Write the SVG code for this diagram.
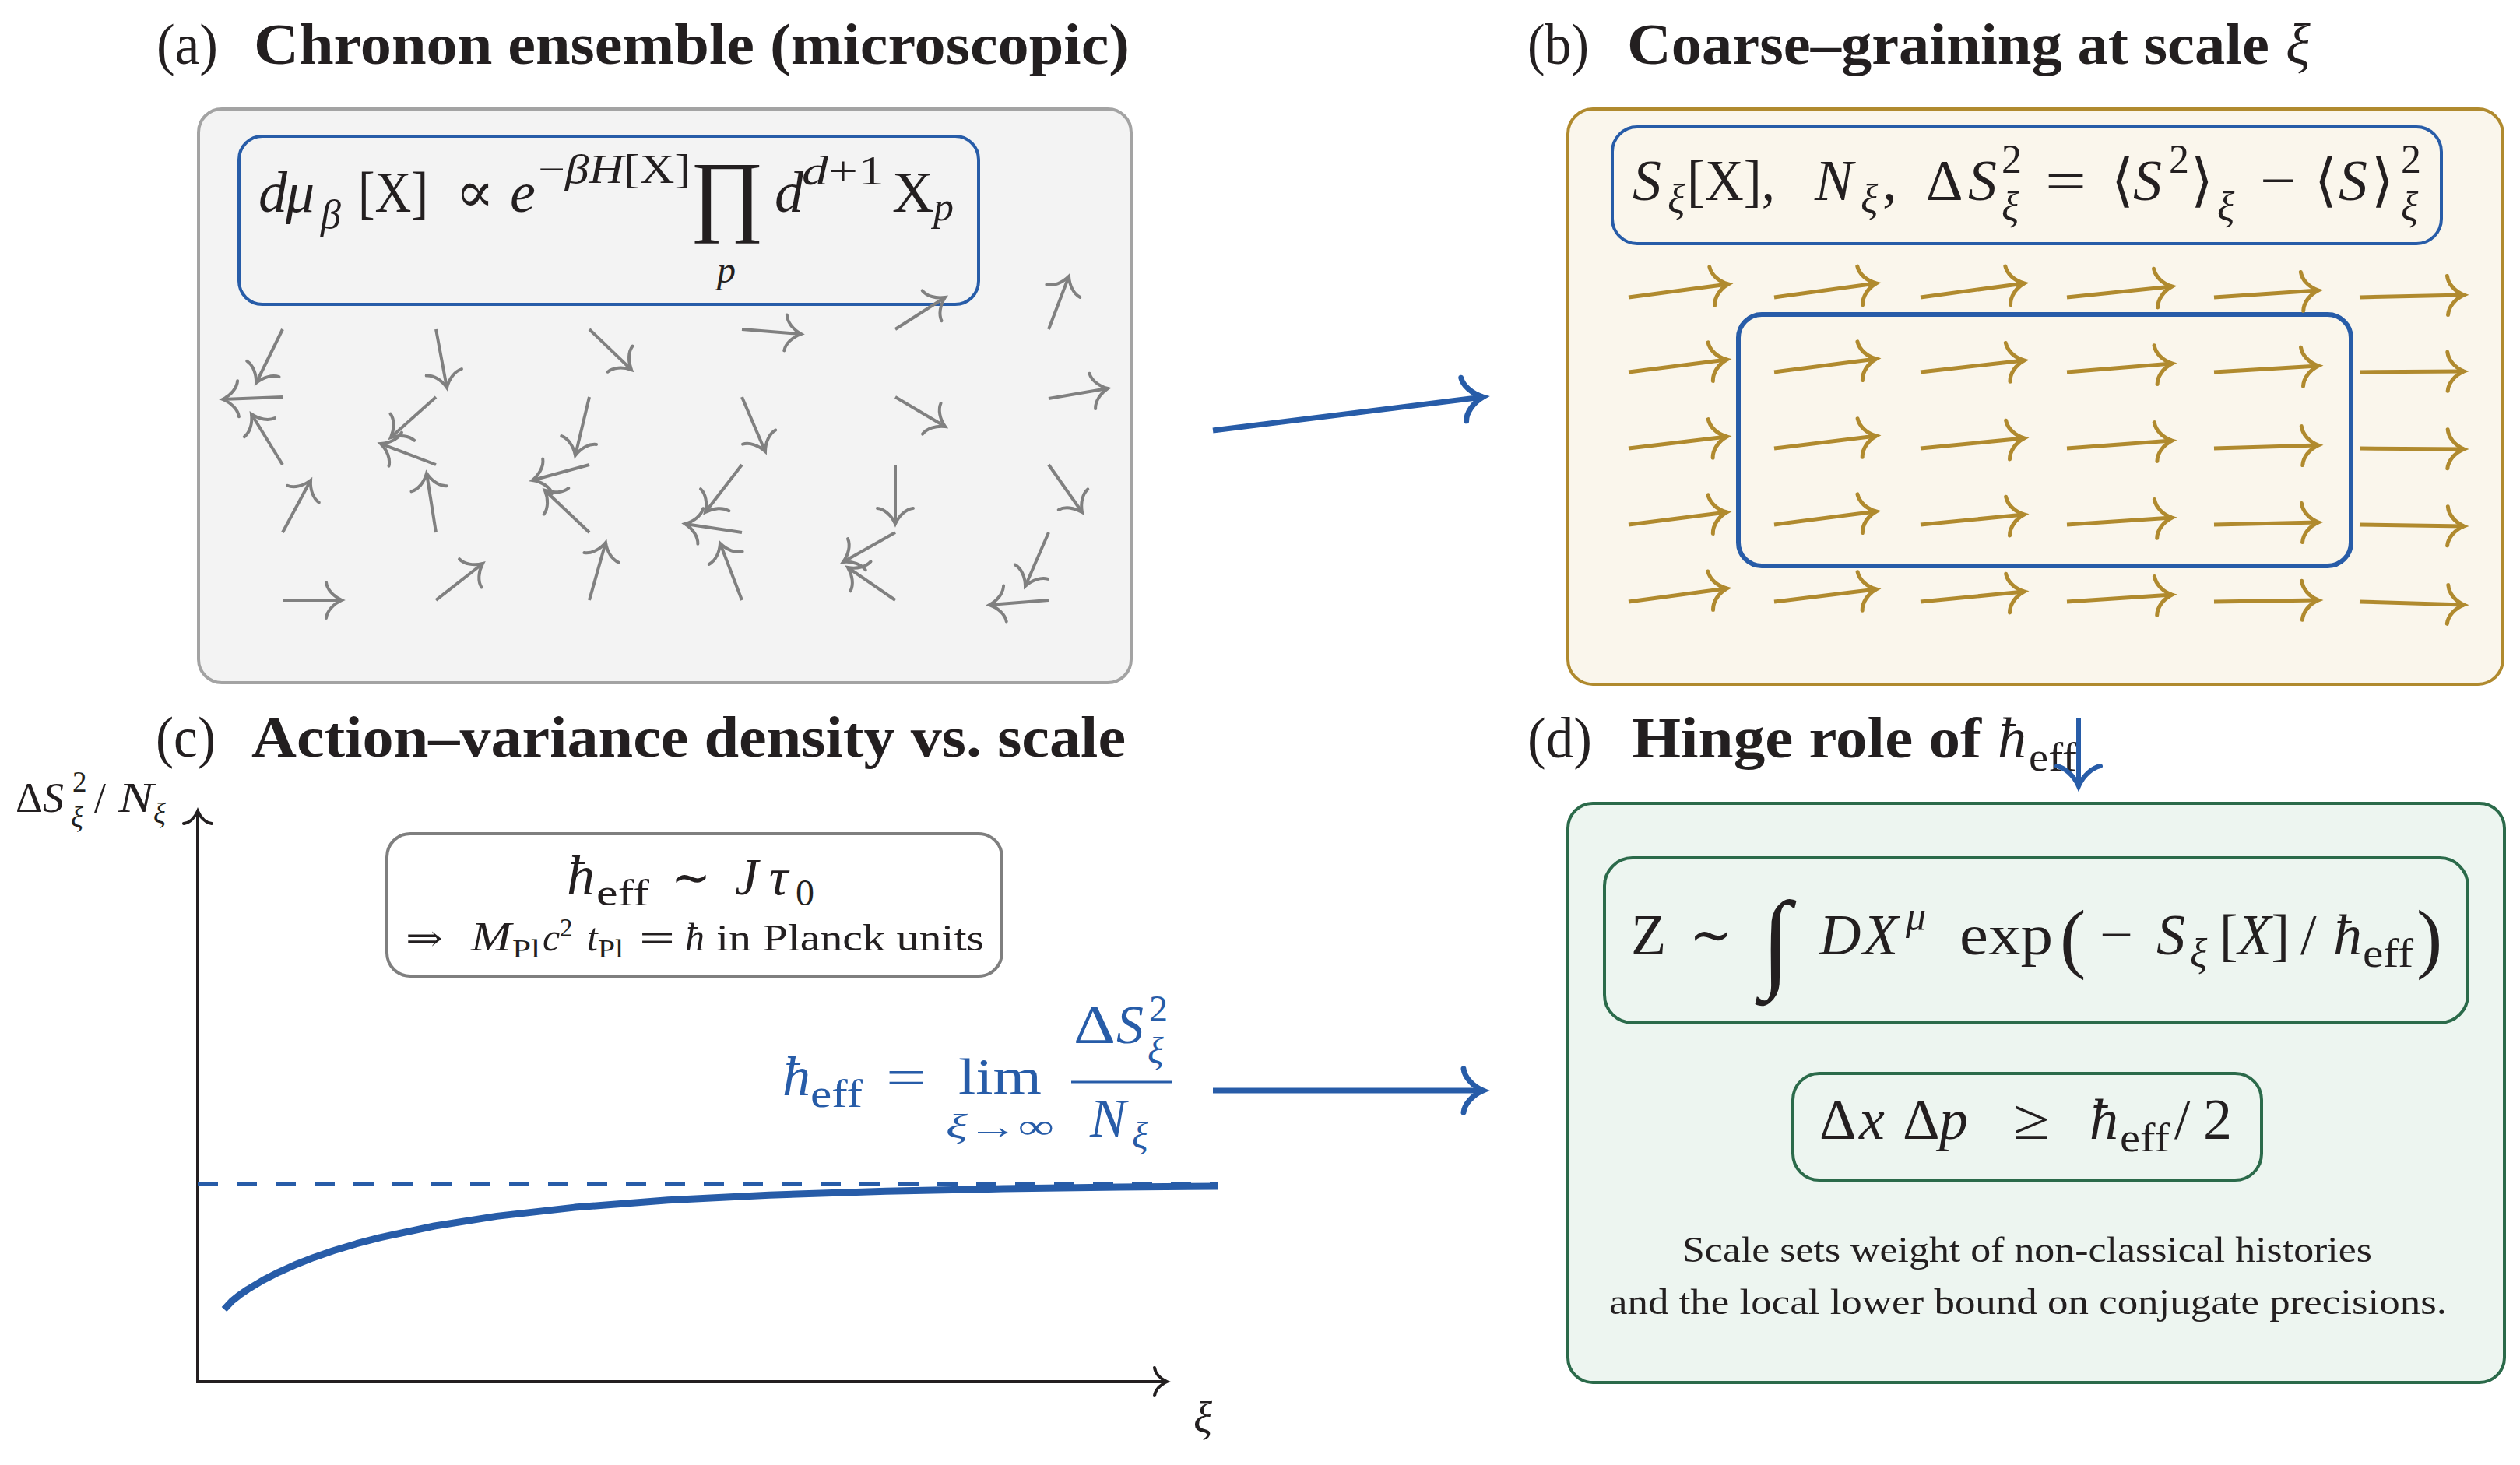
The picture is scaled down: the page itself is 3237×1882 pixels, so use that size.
<svg xmlns="http://www.w3.org/2000/svg" width="3237" height="1882" viewBox="0 0 3237 1882">
<style>
text{font-family:"Liberation Serif","DejaVu Serif","DejaVu Sans",serif;fill:#231f20}
.i{font-style:italic}
.b{font-weight:bold}
.tt{font-size:74px}
.m{font-size:74px}
.s{font-size:52px}
.blue{fill:#275ca8}
.ga{fill:none;stroke:#808080;stroke-width:4}
.au{fill:none;stroke:#b08a2e;stroke-width:5}
.cn{fill:none;stroke:#275ca8;stroke-width:7}
</style>
<defs>
<marker id="mg" markerUnits="userSpaceOnUse" orient="auto" markerWidth="60" markerHeight="60" viewBox="-30 -30 60 60" refX="0" refY="0" overflow="visible">
<path d="M-20,-23 C-19,-14 -11,-5 0,0 C-11,5 -19,14 -20,23" fill="none" stroke="#808080" stroke-width="4" stroke-linecap="round"/>
</marker>
<marker id="mau" markerUnits="userSpaceOnUse" orient="auto" markerWidth="60" markerHeight="60" viewBox="-30 -30 60 60" refX="0" refY="0" overflow="visible">
<path d="M-21,-25 C-20,-15 -12,-5 0,0 C-12,5 -20,15 -21,25" fill="none" stroke="#b08a2e" stroke-width="5" stroke-linecap="round"/>
</marker>
<marker id="mb" markerUnits="userSpaceOnUse" orient="auto" markerWidth="80" markerHeight="80" viewBox="-40 -40 80 80" refX="0" refY="0" overflow="visible">
<path d="M-25,-28 C-24,-18 -14,-6 0,0 C-14,6 -24,18 -25,28" fill="none" stroke="#275ca8" stroke-width="7" stroke-linecap="round"/>
</marker>
<marker id="mbs" markerUnits="userSpaceOnUse" orient="auto" markerWidth="80" markerHeight="80" viewBox="-40 -40 80 80" refX="0" refY="0" overflow="visible">
<path d="M-26,-28 C-24,-18 -14,-6 0,0 C-14,6 -24,18 -26,28" fill="none" stroke="#275ca8" stroke-width="6" stroke-linecap="round"/>
</marker>
<marker id="mk" markerUnits="userSpaceOnUse" orient="auto" markerWidth="60" markerHeight="60" viewBox="-30 -30 60 60" refX="0" refY="0" overflow="visible">
<path d="M-16,-18 C-15,-11 -9,-4 0,0 C-9,4 -15,11 -16,18" fill="none" stroke="#231f20" stroke-width="4" stroke-linecap="round"/>
</marker>
</defs>
<rect width="3237" height="1882" fill="#ffffff"/>

<!-- Panel (a) -->
<g id="panel-a">
<text x="201" y="82" class="tt" textLength="79" lengthAdjust="spacingAndGlyphs">(a)</text>
<text x="326" y="82" class="tt b" textLength="1125" lengthAdjust="spacingAndGlyphs">Chronon ensemble (microscopic)</text>
<rect x="255" y="140" width="1198" height="737" rx="30" fill="#f3f3f3" stroke="#a3a3a3" stroke-width="4"/>
</g>
<g id="node-a-formula">
<rect x="307" y="175" width="950" height="216" rx="30" fill="none" stroke="#275ca8" stroke-width="4"/>
<text x="332" y="272" class="m i">d</text>
<text x="367" y="272" class="m i">μ</text>
<text x="412" y="293" class="s i">β</text>
<text x="460" y="272" class="m" textLength="90" lengthAdjust="spacingAndGlyphs">[X]</text>
<text x="585" y="272" class="m">∝</text>
<text x="655" y="272" class="m i">e</text>
<text x="691" y="235" class="s" textLength="196" lengthAdjust="spacingAndGlyphs">−<tspan class="i">βH</tspan>[X]</text>
<text x="886" y="288" style="font-size:116px">∏</text>
<text x="921" y="363" class="i" style="font-size:48px">p</text>
<text x="995" y="272" class="m i">d</text>
<text x="1030" y="237" class="s" textLength="106" lengthAdjust="spacingAndGlyphs"><tspan class="i">d</tspan>+1</text>
<text x="1146" y="272" class="m">X</text>
<text x="1199" y="283" class="s i">p</text>
</g>
<g id="microscopic-arrows">
<path class="ga" marker-end="url(#mg)" d="M363,423L329,492"/>
<path class="ga" marker-end="url(#mg)" d="M560,423L574,498"/>
<path class="ga" marker-end="url(#mg)" d="M757,423L811,475"/>
<path class="ga" marker-end="url(#mg)" d="M953,423L1029,429"/>
<path class="ga" marker-end="url(#mg)" d="M1150,423L1214,382"/>
<path class="ga" marker-end="url(#mg)" d="M1347,423L1373,355"/>
<path class="ga" marker-end="url(#mg)" d="M363,510L286,513"/>
<path class="ga" marker-end="url(#mg)" d="M560,510L502,562"/>
<path class="ga" marker-end="url(#mg)" d="M757,510L739,585"/>
<path class="ga" marker-end="url(#mg)" d="M953,510L983,580"/>
<path class="ga" marker-end="url(#mg)" d="M1150,510L1214,548"/>
<path class="ga" marker-end="url(#mg)" d="M1347,512L1423,499"/>
<path class="ga" marker-end="url(#mg)" d="M363,597L323,532"/>
<path class="ga" marker-end="url(#mg)" d="M560,597L489,570"/>
<path class="ga" marker-end="url(#mg)" d="M757,597L684,617"/>
<path class="ga" marker-end="url(#mg)" d="M953,597L906,658"/>
<path class="ga" marker-end="url(#mg)" d="M1150,597L1150,673"/>
<path class="ga" marker-end="url(#mg)" d="M1347,597L1390,658"/>
<path class="ga" marker-end="url(#mg)" d="M363,684L399,617"/>
<path class="ga" marker-end="url(#mg)" d="M560,684L548,608"/>
<path class="ga" marker-end="url(#mg)" d="M757,684L700,630"/>
<path class="ga" marker-end="url(#mg)" d="M953,684L880,673"/>
<path class="ga" marker-end="url(#mg)" d="M1150,684L1083,722"/>
<path class="ga" marker-end="url(#mg)" d="M1347,684L1317,753"/>
<path class="ga" marker-end="url(#mg)" d="M363,771L439,771"/>
<path class="ga" marker-end="url(#mg)" d="M560,771L620,724"/>
<path class="ga" marker-end="url(#mg)" d="M757,771L778,697"/>
<path class="ga" marker-end="url(#mg)" d="M953,771L925,698"/>
<path class="ga" marker-end="url(#mg)" d="M1150,771L1089,729"/>
<path class="ga" marker-end="url(#mg)" d="M1347,771L1271,777"/>
</g>

<!-- Panel (b) -->
<g id="panel-b">
<text x="1962" y="82" class="tt" textLength="79" lengthAdjust="spacingAndGlyphs">(b)</text>
<text x="2090" y="82" class="tt b" textLength="825" lengthAdjust="spacingAndGlyphs">Coarse–graining at scale</text>
<text x="2936" y="82" class="tt i">ξ</text>
<rect x="2014" y="140" width="1201" height="739" rx="32" fill="#faf6ec" stroke="#b08a2e" stroke-width="4"/>
</g>
<g id="node-b-formula">
<rect x="2071" y="163" width="1065" height="150" rx="32" fill="none" stroke="#275ca8" stroke-width="4"/>
<text x="2097" y="257" class="m i">S</text>
<text x="2142" y="273" class="s i">ξ</text>
<text x="2167" y="257" class="m" textLength="113" lengthAdjust="spacingAndGlyphs">[X],</text>
<text x="2331" y="257" class="m i">N</text>
<text x="2390" y="273" class="s i">ξ</text>
<text x="2418" y="257" class="m">,</text>
<text x="2474" y="257" class="m">Δ</text>
<text x="2528" y="257" class="m i">S</text>
<text x="2571" y="222" class="s">2</text>
<text x="2571" y="283" class="s i">ξ</text>
<text x="2627" y="257" class="m" textLength="53" lengthAdjust="spacingAndGlyphs">=</text>
<text x="2712" y="257" class="m">⟨</text>
<text x="2740" y="257" class="m i">S</text>
<text x="2786" y="222" class="s">2</text>
<text x="2814" y="257" class="m">⟩</text>
<text x="2848" y="283" class="s i">ξ</text>
<text x="2903" y="257" class="m" textLength="47" lengthAdjust="spacingAndGlyphs">−</text>
<text x="2973" y="257" class="m">⟨</text>
<text x="3004" y="257" class="m i">S</text>
<text x="3046" y="257" class="m">⟩</text>
<text x="3084" y="222" class="s">2</text>
<text x="3084" y="283" class="s i">ξ</text>
</g>
<g id="node-b-block">
<rect x="2233" y="404" width="787" height="323" rx="30" fill="none" stroke="#275ca8" stroke-width="6"/>
</g>
<g id="coarse-arrows">
<path class="au" marker-end="url(#mau)" d="M2092,382l128,-17"/>
<path class="au" marker-end="url(#mau)" d="M2279,382l131,-18"/>
<path class="au" marker-end="url(#mau)" d="M2467,382l133,-18"/>
<path class="au" marker-end="url(#mau)" d="M2655,382l135,-14"/>
<path class="au" marker-end="url(#mau)" d="M2844,382l134,-9"/>
<path class="au" marker-end="url(#mau)" d="M3031,382l134,-3"/>
<path class="au" marker-end="url(#mau)" d="M2092,478l126,-16"/>
<path class="au" marker-end="url(#mau)" d="M2279,478l131,-17"/>
<path class="au" marker-end="url(#mau)" d="M2467,478l133,-15"/>
<path class="au" marker-end="url(#mau)" d="M2655,478l135,-11"/>
<path class="au" marker-end="url(#mau)" d="M2844,478l134,-8"/>
<path class="au" marker-end="url(#mau)" d="M3031,478l134,-1"/>
<path class="au" marker-end="url(#mau)" d="M2092,576l126,-15"/>
<path class="au" marker-end="url(#mau)" d="M2279,576l131,-16"/>
<path class="au" marker-end="url(#mau)" d="M2467,576l133,-13"/>
<path class="au" marker-end="url(#mau)" d="M2655,576l135,-10"/>
<path class="au" marker-end="url(#mau)" d="M2844,576l134,-4"/>
<path class="au" marker-end="url(#mau)" d="M3031,576l134,1"/>
<path class="au" marker-end="url(#mau)" d="M2092,674l126,-16"/>
<path class="au" marker-end="url(#mau)" d="M2279,674l131,-17"/>
<path class="au" marker-end="url(#mau)" d="M2467,674l133,-13"/>
<path class="au" marker-end="url(#mau)" d="M2655,674l135,-9"/>
<path class="au" marker-end="url(#mau)" d="M2844,674l134,-3"/>
<path class="au" marker-end="url(#mau)" d="M3031,674l134,2"/>
<path class="au" marker-end="url(#mau)" d="M2092,773l126,-17"/>
<path class="au" marker-end="url(#mau)" d="M2279,773l131,-16"/>
<path class="au" marker-end="url(#mau)" d="M2467,773l133,-13"/>
<path class="au" marker-end="url(#mau)" d="M2655,773l135,-9"/>
<path class="au" marker-end="url(#mau)" d="M2844,773l134,-2"/>
<path class="au" marker-end="url(#mau)" d="M3031,773l134,4"/>
</g>

<!-- Panel (c) -->
<g id="panel-c">
<text x="200" y="972" class="tt" textLength="77" lengthAdjust="spacingAndGlyphs">(c)</text>
<text x="323" y="972" class="tt b" textLength="1123" lengthAdjust="spacingAndGlyphs">Action–variance density vs. scale</text>
</g>
<g id="plot-axes">
<path d="M254,1775V1042" fill="none" stroke="#231f20" stroke-width="4" marker-end="url(#mk)"/>
<path d="M252,1775H1499" fill="none" stroke="#231f20" stroke-width="4" marker-end="url(#mk)"/>
<text x="20" y="1043" style="font-size:54px" textLength="35" lengthAdjust="spacingAndGlyphs">Δ</text>
<text x="55" y="1043" class="i" style="font-size:54px">S</text>
<text x="93" y="1017" style="font-size:37px">2</text>
<text x="91" y="1063" class="i" style="font-size:37px">ξ</text>
<text x="121" y="1043" style="font-size:54px">/</text>
<text x="152" y="1043" class="i" style="font-size:54px" textLength="45" lengthAdjust="spacingAndGlyphs">N</text>
<text x="197" y="1058" class="i" style="font-size:37px">ξ</text>
<text x="1533" y="1840" class="i" style="font-size:56px">ξ</text>
</g>
<g id="plot-curves">
<path d="M254,1521H1564" fill="none" stroke="#275ca8" stroke-width="4" stroke-dasharray="26 24"/>
<path d="M288,1682L298,1671.3L308,1663.4L318,1656.5L338,1644.5L358,1634.3L378,1625.3L403,1615.4L428,1606.8L458,1597.7L488,1589.9L558,1575L638,1562.4L738,1551.1L858,1541.8L988,1535.2L1138,1530.2L1288,1527.1L1438,1525L1564,1523.9" fill="none" stroke="#275ca8" stroke-width="9" stroke-linejoin="round"/>
</g>
<g id="node-c-box">
<rect x="497" y="1071" width="790" height="183" rx="30" fill="#ffffff" stroke="#7f7f7f" stroke-width="4"/>
<text x="728" y="1149" class="i" style="font-size:72px">ħ</text>
<text x="766" y="1163" style="font-size:48px" textLength="68" lengthAdjust="spacingAndGlyphs">eff</text>
<text x="862" y="1149" style="font-size:64px" textLength="51" lengthAdjust="spacingAndGlyphs">∼</text>
<text x="944" y="1149" class="i" style="font-size:68px">J</text>
<text x="988" y="1149" class="i" style="font-size:68px">τ</text>
<text x="1022" y="1163" style="font-size:48px">0</text>
<text x="521" y="1221" style="font-size:46px" textLength="48" lengthAdjust="spacingAndGlyphs">⇒</text>
<text x="605" y="1221" class="i" style="font-size:52px" textLength="52" lengthAdjust="spacingAndGlyphs">M</text>
<text x="658" y="1230" style="font-size:33px" textLength="36" lengthAdjust="spacingAndGlyphs">Pl</text>
<text x="697" y="1221" class="i" style="font-size:50px">c</text>
<text x="719" y="1203" style="font-size:33px">2</text>
<text x="754" y="1221" class="i" style="font-size:50px">t</text>
<text x="768" y="1230" style="font-size:33px" textLength="33" lengthAdjust="spacingAndGlyphs">Pl</text>
<text x="821" y="1221" style="font-size:48px" textLength="46" lengthAdjust="spacingAndGlyphs">=</text>
<text x="880" y="1221" class="i" style="font-size:50px">ħ</text>
<text x="920" y="1221" style="font-size:48px" textLength="344" lengthAdjust="spacingAndGlyphs">in Planck units</text>
</g>
<g id="node-c-limit">
<text x="1005" y="1407" class="i blue" style="font-size:72px">ħ</text>
<text x="1041" y="1422" class="blue" style="font-size:50px" textLength="67" lengthAdjust="spacingAndGlyphs">eff</text>
<text x="1138" y="1407" class="blue" style="font-size:68px" textLength="52" lengthAdjust="spacingAndGlyphs">=</text>
<text x="1231" y="1405" class="blue" style="font-size:66px" textLength="107" lengthAdjust="spacingAndGlyphs">lim</text>
<text x="1215" y="1462" class="blue" style="font-size:44px" textLength="139" lengthAdjust="spacingAndGlyphs"><tspan class="i">ξ</tspan>→∞</text>
<text x="1379" y="1340" class="blue" style="font-size:70px" textLength="54" lengthAdjust="spacingAndGlyphs">Δ</text>
<text x="1434" y="1340" class="i blue" style="font-size:70px">S</text>
<text x="1476" y="1312" class="blue" style="font-size:48px">2</text>
<text x="1474" y="1366" class="i blue" style="font-size:48px">ξ</text>
<path d="M1376,1390H1506" stroke="#275ca8" stroke-width="3"/>
<text x="1400" y="1460" class="i blue" style="font-size:70px">N</text>
<text x="1454" y="1475" class="i blue" style="font-size:48px">ξ</text>
</g>

<!-- Panel (d) -->
<g id="panel-d">
<text x="1962" y="973" class="tt" textLength="83" lengthAdjust="spacingAndGlyphs">(d)</text>
<text x="2096" y="973" class="tt b" textLength="449" lengthAdjust="spacingAndGlyphs">Hinge role of</text>
<text x="2566" y="973" class="tt i">ħ</text>
<text x="2606" y="990" class="s" textLength="62" lengthAdjust="spacingAndGlyphs">eff</text>
<rect x="2014" y="1032" width="1203" height="744" rx="32" fill="#edf5f0" stroke="#2b6a4a" stroke-width="4"/>
</g>
<g id="node-d-partition">
<rect x="2061" y="1102" width="1109" height="212" rx="36" fill="none" stroke="#2b6a4a" stroke-width="4"/>
<text x="2095" y="1226" class="m">Z</text>
<text x="2170" y="1226" class="m" textLength="56" lengthAdjust="spacingAndGlyphs">∼</text>
<text x="2262" y="1255" class="i" style="font-size:140px">∫</text>
<text x="2337" y="1226" class="m i">D</text>
<text x="2393" y="1226" class="m i">X</text>
<text x="2448" y="1194" class="s i">μ</text>
<text x="2517" y="1226" class="m" textLength="120" lengthAdjust="spacingAndGlyphs">exp</text>
<text x="2646" y="1238" style="font-size:100px">(</text>
<text x="2697" y="1226" class="m" textLength="43" lengthAdjust="spacingAndGlyphs">−</text>
<text x="2770" y="1226" class="m i">S</text>
<text x="2813" y="1242" class="s i">ξ</text>
<text x="2851" y="1226" class="m" textLength="90" lengthAdjust="spacingAndGlyphs">[<tspan class="i">X</tspan>]</text>
<text x="2955" y="1226" class="m">/</text>
<text x="2997" y="1226" class="m i">ħ</text>
<text x="3035" y="1242" class="s" textLength="65" lengthAdjust="spacingAndGlyphs">eff</text>
<text x="3104" y="1238" style="font-size:100px">)</text>
</g>
<g id="node-d-uncertainty">
<rect x="2303" y="1379" width="602" height="137" rx="34" fill="none" stroke="#2b6a4a" stroke-width="4"/>
<text x="2337" y="1463" class="m">Δ</text>
<text x="2388" y="1463" class="m i">x</text>
<text x="2444" y="1463" class="m">Δ</text>
<text x="2491" y="1463" class="m i">p</text>
<text x="2586" y="1463" class="m" textLength="47" lengthAdjust="spacingAndGlyphs">≥</text>
<text x="2684" y="1463" class="m i">ħ</text>
<text x="2723" y="1479" class="s" textLength="64" lengthAdjust="spacingAndGlyphs">eff</text>
<text x="2793" y="1463" class="m">/</text>
<text x="2830" y="1463" class="m">2</text>
</g>
<g id="node-d-caption">
<text x="2161" y="1621" style="font-size:46px" textLength="886" lengthAdjust="spacingAndGlyphs">Scale sets weight of non-classical histories</text>
<text x="2067" y="1688" style="font-size:46px" textLength="1076" lengthAdjust="spacingAndGlyphs">and the local lower bound on conjugate precisions.</text>
</g>

<!-- Connectors -->
<g id="connectors">
<path class="cn" marker-end="url(#mb)" d="M1558,553L1905,510"/>
<path class="cn" marker-end="url(#mb)" d="M1558,1401L1905,1401"/>
<path fill="none" stroke="#275ca8" stroke-width="6" marker-end="url(#mbs)" d="M2670,923V1010"/>
</g>
</svg>
